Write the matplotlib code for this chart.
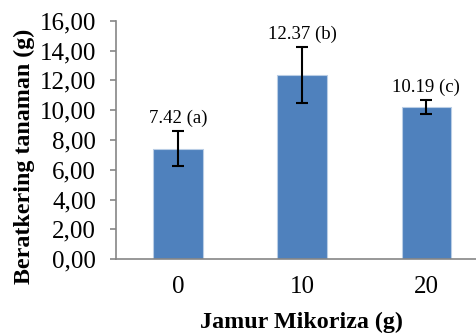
import matplotlib.pyplot as plt

# Data
categories = ['0', '10', '20']
means = [7.42, 12.37, 10.19]
errors = [1.15, 1.86, 0.46]
labels = ['7.42 (a)', '12.37 (b)', '10.19 (c)']
yticks = [0, 2, 4, 6, 8, 10, 12, 14, 16]

plt.rcParams['font.family'] = ['Liberation Serif', 'DejaVu Serif']

fig = plt.figure(figsize=(4.76, 3.36), dpi=100)
ax = fig.add_axes([0.2437, 0.229, 0.7563, 0.709])

x = range(len(categories))
ax.bar(x, means, width=0.4, color='#4F81BD', edgecolor='#B9CDE5', linewidth=0.8, zorder=2)
ax.errorbar(x, means, yerr=errors, fmt='none', ecolor='black', elinewidth=1.5,
            capsize=4.5, capthick=1.5, zorder=3)

for i, (m, e, lab) in enumerate(zip(means, errors, labels)):
    ax.annotate(lab, (i, m + e), xytext=(0, 3), textcoords='offset points',
                ha='center', va='bottom', fontsize=13.5)

ax.set_xlim(-0.5, 2.4)
ax.set_ylim(0, 16)
ax.set_xticks(list(x))
ax.set_xticklabels(categories, fontsize=18)
ax.set_yticks(yticks)
ax.set_yticklabels(['%d,00' % v for v in yticks], fontsize=18)
ax.tick_params(axis='x', length=0, pad=12)
ax.tick_params(axis='y', length=4.3, width=1.2, color='#868686', pad=10)

for side in ['top', 'right']:
    ax.spines[side].set_visible(False)
for side in ['left', 'bottom']:
    ax.spines[side].set_color('#868686')
    ax.spines[side].set_linewidth(1.2)

ax.set_xlabel('Jamur Mikoriza (g)', fontsize=17.3, fontweight='bold', labelpad=10)
ax.xaxis.label.set_x(0.514)
ax.set_ylabel('Beratkering tanaman (g)', fontsize=17.3, fontweight='bold')
ax.yaxis.set_label_coords(-0.225, 0.432)

fig.savefig('out.png', dpi=100)
